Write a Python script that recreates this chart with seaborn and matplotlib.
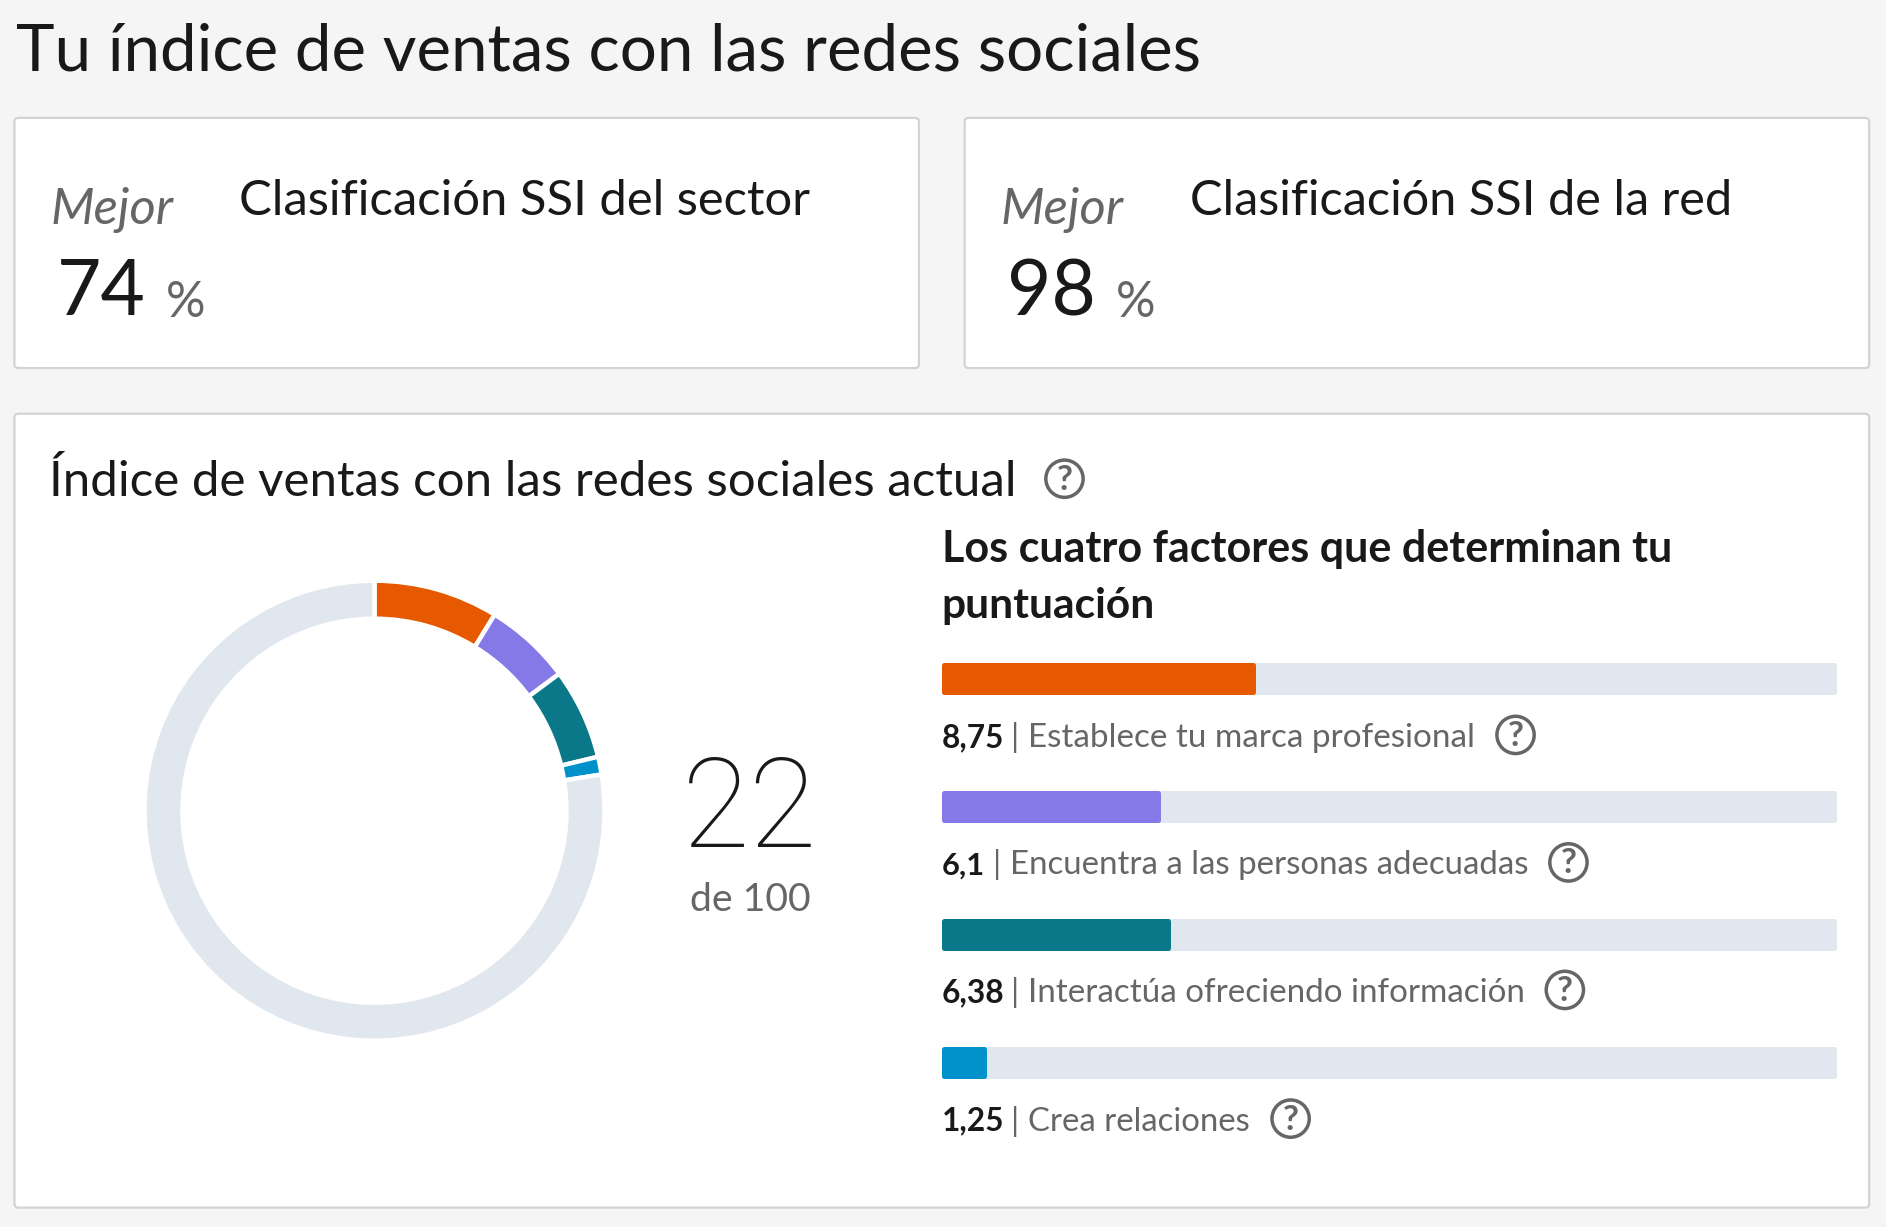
import matplotlib
matplotlib.use("Agg")
import matplotlib.pyplot as plt
from matplotlib.patches import FancyBboxPatch, Circle
import pandas as pd
import seaborn as sns

# ---- data ----
page_title = "Tu índice de ventas con las redes sociales"
card_titles = ["Clasificación SSI del sector", "Clasificación SSI de la red"]
card_rank_word = "Mejor"
card_values = [74, 98]
panel_title = "Índice de ventas con las redes sociales actual"
factors_heading = ["Los cuatro factores que determinan tu", "puntuación"]
total_score = 22
total_caption = "de 100"
factor_names = ["Establece tu marca profesional", "Encuentra a las personas adecuadas",
                "Interactúa ofreciendo información", "Crea relaciones"]
factor_scores = [8.75, 6.1, 6.38, 1.25]
factor_labels = ["8,75", "6,1", "6,38", "1,25"]
factor_max = 25
index_max = 100
factor_colors = ["#E65900", "#8579E8", "#0A7889", "#0091CA"]
track_color = "#E0E7EE"
INK = "#191919"
GRAY = "#666666"
BG = "#F5F5F5"
BORDER = "#D3D3D3"
S = 1886 / 1568  # shrunk-view to full-pixel factor

sns.set_theme(style="white")
plt.rcParams["font.family"] = ["Lato", "DejaVu Sans"]

W, H = 1886, 1227
fig = plt.figure(figsize=(W / 100, H / 100), dpi=100, facecolor=BG)

page = fig.add_axes([0, 0, 1, 1], zorder=0)
page.set_xlim(0, W)
page.set_ylim(H, 0)
page.axis("off")


def ax_px(x0, y0, x1, y1, **kw):
    return fig.add_axes([x0 / W, 1 - y1 / H, (x1 - x0) / W, (y1 - y0) / H], **kw)


renderer = fig.canvas.get_renderer()


def fit(s, x0, x1, base, color=INK, **kw):
    """Text whose left and right ends fall on x0, x1 (coordinates of the shrunk view)."""
    t = page.text(x0 * S, base * S, s, color=color, va="baseline", ha="left", fontsize=20, **kw)
    w = t.get_window_extent(renderer).width
    t.set_fontsize(20 * (x1 - x0) * S / w)
    return t


def card(x0, y0, x1, y1):
    page.add_patch(FancyBboxPatch((x0 * S, y0 * S), (x1 - x0) * S, (y1 - y0) * S,
                                  boxstyle="round,pad=0,rounding_size=4", fc="white",
                                  ec=BORDER, lw=1.6))


def help_icon(cx, cy):
    page.add_patch(Circle((cx * S, cy * S), 15.5 * S, fc="none", ec=GRAY, lw=2.5))
    page.text(cx * S, cy * S + 1, "?", color=GRAY, fontsize=25, ha="center", va="center",
              fontweight="bold")


# ---- header and cards ----
fit(page_title, 13, 1001, 58.5)
card(12, 98, 764, 306)
card(802, 98, 1554, 306)
card(12, 344, 1554, 1004)

for dx, title, value, tx1 in zip([0, 790], card_titles, card_values, [675, 1441]):
    fit(card_rank_word, 42 + dx, 144 + dx, 186, color=GRAY, style="italic")
    fit(title, 199 + dx, tx1, 179)
    fit(str(value), 47 + dx, 121 + dx, 262)
    fit("%", 138 + dx, 171 + dx, 263.5, color=GRAY)

fit(panel_title, 41, 846, 412)
help_icon(885, 398)

# ---- donut ----
R = 230
cx, cy = 374.5, 810.7
donut_ax = ax_px(cx - 1.1 * R, cy - 1.1 * R, cx + 1.1 * R, cy + 1.1 * R, zorder=1)
donut_ax.patch.set_alpha(0)
donut_ax.pie(factor_scores + [index_max - sum(factor_scores)],
             colors=factor_colors + [track_color], startangle=90, counterclock=False, radius=1,
             wedgeprops=dict(width=38 / R, edgecolor="white", linewidth=3.2))
donut_ax.set_xlim(-1.1, 1.1)
donut_ax.set_ylim(-1.1, 1.1)

fit(str(total_score), 567, 680, 704, family="Roboto", fontweight="light")
fit(total_caption, 574, 675, 757, color=GRAY)

# ---- factor bars ----
for line, base, x1 in zip(factors_heading, [467, 514], [1390, 960]):
    fit(line, 783, x1, base, fontweight="bold")

bar_x0, bar_x1 = 783 * S, 1527 * S
bar_ax = ax_px(bar_x0, 614, bar_x1, 614 + 4 * 128, zorder=1)
bar_ax.patch.set_alpha(0)
frame = pd.DataFrame({"factor": factor_names, "score": factor_scores,
                      "scale": [factor_max] * len(factor_names)})
CORNER_PX = 2.5
sns.barplot(data=frame, y="factor", x="scale", order=factor_names, color=track_color,
            saturation=1, width=(32 - 2 * CORNER_PX) / 128, ax=bar_ax)
sns.barplot(data=frame, y="factor", x="score", order=factor_names, hue="factor",
            hue_order=factor_names, palette=factor_colors, dodge=False, legend=False,
            saturation=1, width=(32 - 2 * CORNER_PX) / 128, ax=bar_ax)
units_per_px = factor_max / (bar_x1 - bar_x0)
for p in bar_ax.patches:
    # rounded corners: a thick round-joined edge, with the fill inset by half its width
    p.set_edgecolor(p.get_facecolor())
    p.set_linewidth(2 * CORNER_PX * 0.72)
    p.set_joinstyle("round")
    p.set_x(p.get_x() + CORNER_PX * units_per_px)
    p.set_width(p.get_width() - 2 * CORNER_PX * units_per_px)
bar_ax.set_xlim(0, factor_max)
bar_ax.set_ylim(len(factor_names) - 0.5, -0.5)
bar_ax.axis("off")

rows = [(783, 835, 844, 855, 1227, 621, 1260, 611),
        (783, 819, 829, 840, 1272, 727, 1304, 717),
        (783, 835, 844, 855, 1268, 833, 1301, 823),
        (783, 835, 844, 855, 1040, 940, 1073, 930)]
for name, lab, r in zip(factor_names, factor_labels, rows):
    sx0, sx1, bx, nx0, nx1, base, ix, iy = r
    fit(lab, sx0, sx1, base, fontweight="bold")
    t = fit(name, nx0, nx1, base, color=GRAY)
    page.text(bx * S, base * S, "|", color=GRAY, ha="center", va="baseline",
              fontsize=t.get_fontsize())
    help_icon(ix, iy)

fig.savefig("out.png", dpi=100, facecolor=BG)
